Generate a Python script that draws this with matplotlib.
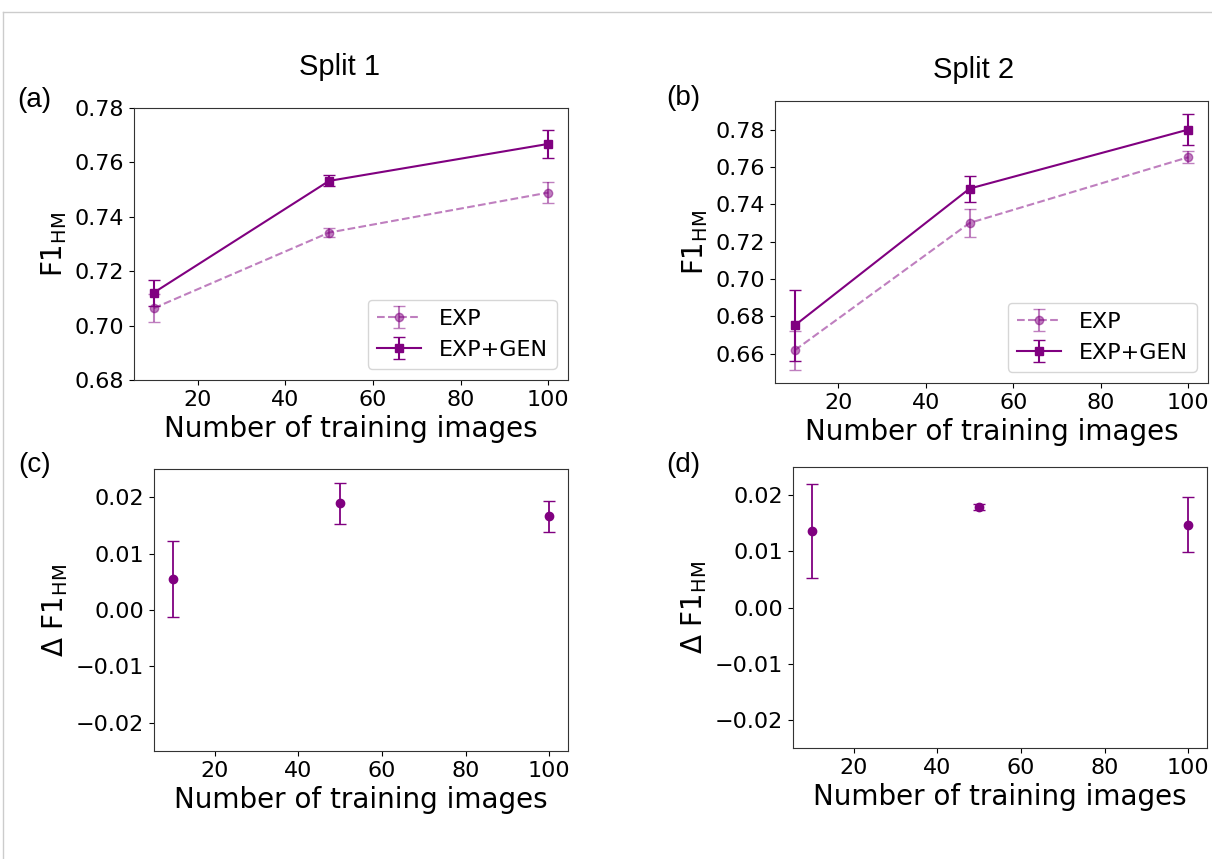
import matplotlib
matplotlib.use("Agg")
import matplotlib.pyplot as plt
from matplotlib.lines import Line2D

# Data
n_images = [10, 50, 100]

# Split 1
s1_exp = [0.7064, 0.7342, 0.7489]
s1_exp_err = [0.0052, 0.0018, 0.0040]
s1_gen = [0.7121, 0.7532, 0.7668]
s1_gen_err = [0.0048, 0.0020, 0.0050]
s1_delta = [0.0055, 0.0189, 0.0166]
s1_delta_err = [0.0067, 0.0036, 0.0028]

# Split 2
s2_exp = [0.6618, 0.7300, 0.7652]
s2_exp_err = [0.0103, 0.0074, 0.0032]
s2_gen = [0.6751, 0.7484, 0.7800]
s2_gen_err = [0.0190, 0.0070, 0.0082]
s2_delta = [0.0136, 0.0179, 0.0147]
s2_delta_err = [0.0083, 0.0006, 0.0049]

s1_yticks = [0.68, 0.70, 0.72, 0.74, 0.76, 0.78]
s2_yticks = [0.66, 0.68, 0.70, 0.72, 0.74, 0.76, 0.78]
delta_yticks = [-0.02, -0.01, 0.0, 0.01, 0.02]

COLOR = "purple"
W, H = 1212, 859
SANS = "Liberation Sans"


def px_axes(fig, left, top, right, bottom):
    """Adds axes from pixel coordinates (origin top-left)."""
    return fig.add_axes([left / W, 1 - bottom / H, (right - left) / W, (bottom - top) / H])


def draw_curves(ax, exp, exp_err, gen, gen_err, ylim, yticks):
    ax.errorbar(n_images, exp, yerr=exp_err, fmt="o--", color=COLOR, alpha=0.5,
                capsize=4, lw=1.5, ms=6, label="EXP")
    ax.errorbar(n_images, gen, yerr=gen_err, fmt="s-", color=COLOR,
                capsize=4, lw=1.5, ms=6, label="EXP+GEN")
    ax.set_ylim(*ylim)
    ax.set_yticks(yticks)
    ax.set_xlabel("Number of training images", fontsize=20)
    ax.set_ylabel(r"F1$_{\mathrm{HM}}$", fontsize=20)
    ax.tick_params(labelsize=16)
    ax.legend(loc="lower right", fontsize=16)


def draw_delta(ax, delta, delta_err):
    ax.errorbar(n_images, delta, yerr=delta_err, fmt="o", color=COLOR,
                capsize=4, elinewidth=1.3, ms=6)
    ax.set_xlim(5.5, 104.5)
    ax.set_ylim(-0.025, 0.025)
    ax.set_yticks(delta_yticks)
    ax.set_xlabel("Number of training images", fontsize=20)
    ax.set_ylabel(r"$\Delta$ F1$_{\mathrm{HM}}$", fontsize=20)
    ax.tick_params(labelsize=16)


fig = plt.figure(figsize=(W / 100, H / 100), dpi=100)

ax_a = px_axes(fig, 134, 108, 568, 380)
ax_b = px_axes(fig, 775, 101, 1208, 383)
ax_c = px_axes(fig, 154, 469, 568, 751)
ax_d = px_axes(fig, 793, 467, 1207, 748)

draw_curves(ax_a, s1_exp, s1_exp_err, s1_gen, s1_gen_err, (0.68, 0.78), s1_yticks)
draw_curves(ax_b, s2_exp, s2_exp_err, s2_gen, s2_gen_err, (0.6443, 0.7953), s2_yticks)
draw_delta(ax_c, s1_delta, s1_delta_err)
draw_delta(ax_d, s2_delta, s2_delta_err)

for ax in (ax_a, ax_b, ax_c, ax_d):
    for sp in ax.spines.values():
        sp.set_color("#333333")

# Titles and panel letters
fig.text(339 / W, 1 - 67 / H, "Split 1", fontsize=21, family=SANS, ha="center", va="center")
fig.text(974 / W, 1 - 70 / H, "Split 2", fontsize=21, family=SANS, ha="center", va="center")
for label, x, y in [("(a)", 34, 100), ("(b)", 683, 98), ("(c)", 35, 465), ("(d)", 683, 465)]:
    fig.text(x / W, 1 - y / H, label, fontsize=20, family=SANS, ha="center", va="center")

# Light frame lines from the original screenshot
fig.add_artist(Line2D([3 / W, 1], [1 - 12 / H, 1 - 12 / H], color="#cccccc", lw=1))
fig.add_artist(Line2D([3 / W, 3 / W], [0, 1 - 12 / H], color="#cccccc", lw=1))

fig.savefig("out.png", dpi=100)
